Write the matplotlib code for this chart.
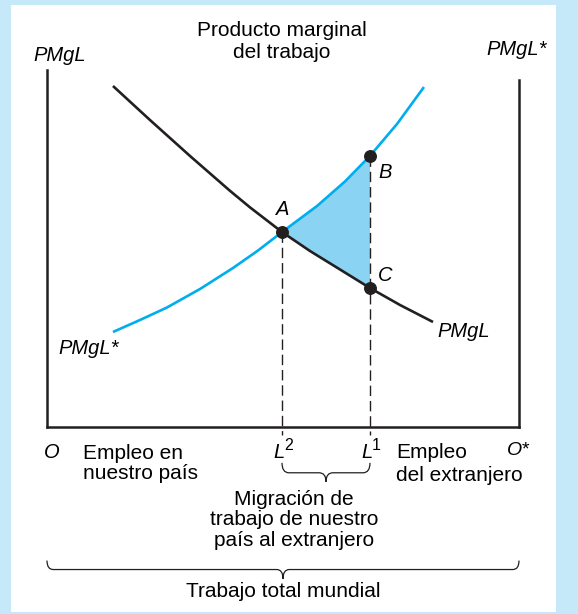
import numpy as np
import matplotlib
matplotlib.use('Agg')
import matplotlib.pyplot as plt
from matplotlib.path import Path
from matplotlib.patches import PathPatch, Rectangle

plt.rcParams['font.family'] = 'Liberation Sans'

# trabajo (0 = O, 100 = O*) y producto marginal
pmgl_x = [13.98, 21.82, 30.30, 38.77, 43.01, 49.79, 55.72, 62.08, 68.43, 74.79, 81.78]
pmgl_y = [72.25, 65.04, 57.42, 50.04, 46.53, 41.31, 37.29, 33.37, 29.45, 25.85, 22.25]

pmgl_ext_x = [13.98, 19.70, 25.42, 32.42, 39.41, 44.70, 49.79, 57.20, 63.14, 68.43, 74.15, 79.87]
pmgl_ext_y = [20.13, 22.67, 25.32, 29.24, 33.69, 37.39, 41.31, 46.82, 52.03, 57.44, 64.19, 72.03]

L2 = 49.79
L1 = 68.43
puntos = {'A': (L2, 41.31), 'B': (L1, 57.44), 'C': (L1, 29.45)}

negro = '#231f20'
azul = '#00aeef'
relleno = '#8ad3f2'
fondo = '#c6e9f9'


def llave(ax, x0, x1, y0, r, h):
    xm = (x0 + x1) / 2
    w = r * 0.7
    verts = [(x0, y0), (x0, y0 - r), (x0 + w, y0 - r),
             (xm - w, y0 - r),
             (xm, y0 - r), (xm, y0 - h),
             (xm, y0 - r), (xm + w, y0 - r),
             (x1 - w, y0 - r),
             (x1, y0 - r), (x1, y0)]
    codes = [Path.MOVETO, Path.CURVE3, Path.CURVE3, Path.LINETO,
             Path.CURVE3, Path.CURVE3, Path.CURVE3, Path.CURVE3,
             Path.LINETO, Path.CURVE3, Path.CURVE3]
    ax.add_patch(PathPatch(Path(verts, codes), fill=False, lw=0.9,
                           edgecolor=negro, clip_on=False))


fig = plt.figure(figsize=(5.78, 6.14), dpi=100, facecolor=fondo)
fig.patches.append(Rectangle((11 / 578, 2 / 614), 545 / 578, 607 / 614,
                             transform=fig.transFigure, facecolor='white',
                             edgecolor='none', zorder=-1))

ax = fig.add_axes([47 / 578, 187 / 614, 472 / 578, 357 / 614])
ax.set_facecolor('none')
ax.set_xlim(0, 100)
ax.set_ylim(0, 75.64)
ax.set_xticks([])
ax.set_yticks([])
ax.spines['top'].set_visible(False)
ax.spines['right'].set_bounds(0, 73.5)
for s in ['left', 'right', 'bottom']:
    ax.spines[s].set_linewidth(1.8)
    ax.spines[s].set_color(negro)

# area triangular entre las curvas
bx = [x for x in pmgl_ext_x if L2 <= x <= L1]
by = [y for x, y in zip(pmgl_ext_x, pmgl_ext_y) if L2 <= x <= L1]
nx = [x for x in pmgl_x if L2 <= x <= L1][::-1]
ny = [y for x, y in zip(pmgl_x, pmgl_y) if L2 <= x <= L1][::-1]
ax.fill(bx + nx, by + ny, color=relleno, lw=0, zorder=1)

ax.plot(pmgl_x, pmgl_y, color=negro, lw=1.9, zorder=3, solid_capstyle='butt')
ax.plot(pmgl_ext_x, pmgl_ext_y, color=azul, lw=1.9, zorder=2, solid_capstyle='butt')

ax.plot([L2, L2], [puntos['A'][1], -1.7], color=negro, lw=1.0,
        dashes=(7.5, 3.5), clip_on=False, zorder=2)
ax.plot([L1, L1], [puntos['B'][1], -1.7], color=negro, lw=1.0,
        dashes=(7.5, 3.5), clip_on=False, zorder=2)

for k, (x, y) in puntos.items():
    ax.plot(x, y, 'o', color=negro, ms=8.3, zorder=5)

fs = 14.5
ft = 15
ax.text(50.0, 46.0, 'A', style='italic', fontsize=fs, ha='center', va='center')
ax.text(71.6, 54.0, 'B', style='italic', fontsize=fs, ha='center', va='center')
ax.text(71.6, 32.0, 'C', style='italic', fontsize=fs, ha='center', va='center')

ax.text(2.75, 78.8, 'PMgL', style='italic', fontsize=fs, ha='center', va='center')
ax.text(99.4, 79.9, 'PMgL*', style='italic', fontsize=fs, ha='center', va='center')
ax.text(49.8, 81.7, 'Producto marginal\ndel trabajo', fontsize=ft,
        ha='center', va='center', linespacing=1.15)
ax.text(88.2, 20.2, 'PMgL', style='italic', fontsize=fs, ha='center', va='center')
ax.text(8.75, 16.7, 'PMgL*', style='italic', fontsize=fs, ha='center', va='center')

ax.text(1.0, -5.5, 'O', style='italic', fontsize=fs, ha='center', va='center')
ax.text(99.8, -5.0, 'O*', style='italic', fontsize=14, ha='center', va='center')

# L con su superindice
ax.text(L2 - 0.65, -5.5, 'L', style='italic', fontsize=fs, ha='center', va='center')
ax.text(L2 + 1.5, -4.0, '2', fontsize=11.5, ha='center', va='center')
ax.text(L1 - 0.55, -5.5, 'L', style='italic', fontsize=fs, ha='center', va='center')
ax.text(L1 + 1.3, -4.0, '1', fontsize=11.5, ha='center', va='center')

ax.text(7.6, -7.7, 'Empleo en\nnuestro país', fontsize=ft, ha='left',
        va='center', linespacing=1.1)
ax.text(73.9, -5.5, 'Empleo', fontsize=ft, ha='left', va='center')
ax.text(73.9, -10.2, 'del extranjero', fontsize=ft, ha='left', va='center')

ax.annotate('', xy=(32.4, -15.0), xytext=(23.9, -15.0),
            arrowprops=dict(arrowstyle='->', lw=1.0, color=negro))
ax.annotate('', xy=(74.2, -15.0), xytext=(82.6, -15.0),
            arrowprops=dict(arrowstyle='->', lw=1.0, color=negro))

ax.text(52.3, -19.7, 'Migración de\ntrabajo de nuestro\npaís al extranjero',
        fontsize=ft, ha='center', va='center', linespacing=1.1)

llave(ax, L2, L1, -7.6, 2.1, 4.0)
llave(ax, 0, 100, -28.3, 1.9, 3.9)
ax.text(50.0, -34.9, 'Trabajo total mundial', fontsize=ft, ha='center', va='center')

plt.savefig('out.png', dpi=100, facecolor=fondo)
